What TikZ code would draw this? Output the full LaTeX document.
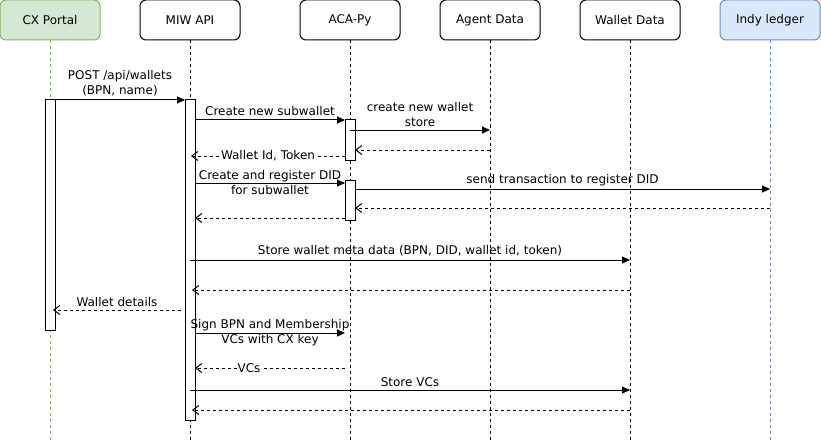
\documentclass[tikz,border=0pt]{standalone}
\usepackage{fontspec}
\setmainfont{DejaVu Sans}
\usetikzlibrary{arrows.meta}

\definecolor{portalfill}{HTML}{D5E8D4}
\definecolor{portaldraw}{HTML}{82B366}
\definecolor{indyfill}{HTML}{DAE8FC}
\definecolor{indydraw}{HTML}{6C8EBF}

\tikzset{
    head/.style={draw, fill=white, rounded corners=6pt, minimum width=100pt,
        minimum height=40pt, inner sep=0pt, font=\fontsize{12}{15}\selectfont},
    life/.style={dash pattern=on 3pt off 3pt},
    actbar/.style={draw, fill=white, minimum width=10pt, inner sep=0pt},
    call/.style={-{Triangle[length=8pt,width=7pt]}},
    reply/.style={dash pattern=on 3pt off 3pt, -{Straight Barb[length=6pt,width=9pt]}},
    lbl/.style={font=\fontsize{12}{15}\selectfont, align=center, inner sep=1pt}
}

\begin{document}
\begin{tikzpicture}[x=1pt, y=-1pt, line width=1pt]
    \useasboundingbox (0,0) rectangle (821,441);
    \coordinate (bottom) at (0,441);

    % Participants
    \node[head, fill=portalfill, draw=portaldraw] (portal) at (50,20) {CX Portal};
    \node[head] (miw) at (190,20) {MIW API};
    \node[head] (acapy) at (350,20) {ACA-Py};
    \node[head] (agentdata) at (490,20) {Agent Data};
    \node[head] (walletdata) at (630,20) {Wallet Data};
    \node[head, fill=indyfill, draw=indydraw] (indy) at (770,20) {Indy ledger};

    % Lifelines
    \draw[life, portaldraw] (portal.south) -- (portal.south |- bottom);
    \foreach \who in {miw, acapy, agentdata, walletdata}
        \draw[life] (\who.south) -- (\who.south |- bottom);
    \draw[life, indydraw] (indy.south) -- (indy.south |- bottom);

    % Activation bars
    \node[actbar, minimum height=230pt] (portalbar) at (50,215) {};
    \node[actbar, minimum height=320pt] (miwbar) at (190,260) {};
    \node[actbar, minimum height=40pt] (acabarA) at (350,140) {};
    \node[actbar, minimum height=40pt] (acabarB) at (350,200) {};

    % Message end points
    \coordinate (m1a) at (55,100);   \coordinate (m1b) at (185,100);
    \coordinate (m2a) at (195,120);  \coordinate (m2b) at (345,120);
    \coordinate (m3a) at (350,130);  \coordinate (m3b) at (490,130);
    \coordinate (m4a) at (490,150);  \coordinate (m4b) at (355,150);
    \coordinate (m5a) at (345,156);  \coordinate (m5b) at (191,156);
    \coordinate (m6a) at (195,183);  \coordinate (m6b) at (345,183);
    \coordinate (m7a) at (355,189);  \coordinate (m7b) at (770,189);
    \coordinate (m8a) at (770,208);  \coordinate (m8b) at (355,208);
    \coordinate (m9a) at (345,218);  \coordinate (m9b) at (195,218);
    \coordinate (m10a) at (190,260); \coordinate (m10b) at (630,260);
    \coordinate (m11a) at (630,290); \coordinate (m11b) at (192,290);
    \coordinate (m12a) at (181,310); \coordinate (m12b) at (53,310);
    \coordinate (m13a) at (195,333); \coordinate (m13b) at (345,333);
    \coordinate (m14a) at (345,368); \coordinate (m14b) at (195,368);
    \coordinate (m15a) at (190,390); \coordinate (m15b) at (630,390);
    \coordinate (m16a) at (630,410); \coordinate (m16b) at (192,410);

    % Messages
    \draw[call] (m1a) -- node[lbl, above=2pt] {POST /api/wallets\\(BPN, name)} (m1b);
    \draw[call] (m2a) -- node[lbl, above=3pt] {Create new subwallet} (m2b);
    \draw[call] (m3a) -- node[lbl, above=2pt] {create new wallet\\store} (m3b);
    \draw[reply] (m4a) -- (m4b);
    \draw[reply] (m5a) -- node[lbl, fill=white] {Wallet Id, Token} (m5b);
    \draw[call] (m6a) -- node[lbl] {Create and register DID\\for subwallet} (m6b);
    \draw[call] (m7a) -- node[lbl, above=2pt] {send transaction to register DID} (m7b);
    \draw[reply] (m8a) -- (m8b);
    \draw[reply] (m9a) -- (m9b);
    \draw[call] (m10a) -- node[lbl, above=2pt] {Store wallet meta data (BPN, DID, wallet id, token)} (m10b);
    \draw[reply] (m11a) -- (m11b);
    \draw[reply] (m12a) -- node[lbl, above=2pt] {Wallet details} (m12b);
    \draw[call] (m13a) -- node[lbl] {Sign BPN and Membership\\VCs with CX key} (m13b);
    \draw[reply] (m14a) -- node[lbl, fill=white, pos=0.64] {VCs} (m14b);
    \draw[call] (m15a) -- node[lbl, above=2pt] {Store VCs} (m15b);
    \draw[reply] (m16a) -- (m16b);
\end{tikzpicture}
\end{document}
